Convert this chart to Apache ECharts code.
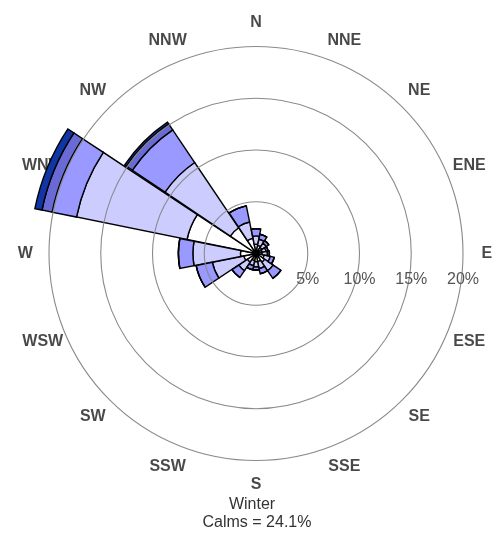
<!DOCTYPE html>
<html>
<head>
<meta charset="utf-8">
<script src="https://cdn.jsdelivr.net/npm/echarts@6/dist/echarts.min.js"></script>
<style>html,body{margin:0;padding:0;background:#fff}#chart{width:492px;height:534px}</style>
</head>
<body>
<div id="chart"></div>
<script>
// ---- data (percent of time, per direction, per wind-speed class; stacked outward) ----
const directions = ['N','NNE','NE','ENE','E','ESE','SE','SSE','S','SSW','SW','WSW','W','WNW','NW','NNW'];
const speedClass1 = [0.9, 0.8, 0.7, 0.6, 0.6, 0.8, 1.0, 0.8, 0.8, 0.7, 1.0, 1.2, 1.5, 6.8, 3.0, 1.5];
const speedClass2 = [0.8, 0.6, 0.5, 0.4, 0.5, 0.6, 1.0, 0.7, 0.5, 0.5, 1.0, 3.1, 4.6, 10.9, 7.6, 1.6];
const speedClass3 = [0.7, 0.5, 0.3, 0.2, 0.2, 0.4, 0.9, 0.5, 0.3, 0.4, 0.8, 1.6, 1.4, 2.4, 3.8, 1.6];
const speedClass4 = [0, 0, 0, 0, 0, 0, 0, 0, 0, 0, 0, 0, 0, 1.0, 0.7, 0];
const speedClass5 = [0, 0, 0, 0, 0, 0, 0, 0, 0, 0, 0, 0, 0, 0.7, 0.2, 0];
const radiusTicks = [5, 10, 15, 20];
const seasonLabel = 'Winter';
const calmsPercent = 24.1;

// ---- layout / style ----
const CX = 256, CY = 253.5;
const R_MAX = 22;            // radius-axis maximum (percent)
const R_PX = 227.7;          // pixel radius of R_MAX
const LABEL_R = 22.3;        // where direction names sit (percent units)
const FONT = "'Liberation Sans', Arial, Helvetica, sans-serif";
const colors = ['#ffffff', '#ccccff', '#9999ff', '#6a6ad6', '#1036a6'];
const classes = [speedClass1, speedClass2, speedClass3, speedClass4, speedClass5];

const chart = echarts.init(document.getElementById('chart'), null, {renderer: 'canvas'});

const splitColors = [];
const tickStep = radiusTicks[1] - radiusTicks[0];
for (let v = 0; v <= R_MAX; v += tickStep) splitColors.push(v === 0 ? 'transparent' : '#8a8a8a');
splitColors.push('transparent');

const barSeries = classes.map((arr, k) => ({
  type: 'bar',
  name: 'class ' + (k + 1),
  coordinateSystem: 'polar',
  polarIndex: 0,
  stack: 'wind',
  data: arr,
  barCategoryGap: '2%',
  silent: true,
  z: 3,
  itemStyle: {color: colors[k], borderColor: '#000', borderWidth: 1.4}
}));

const option = {
  animation: false,
  backgroundColor: '#fff',
  polar: [
    {center: [CX, CY], radius: R_PX},
    {center: [CX, CY], radius: R_PX}
  ],
  angleAxis: [
    {polarIndex: 0, type: 'category', data: directions, startAngle: 90 + 360 / directions.length / 2,
     clockwise: true, boundaryGap: true,
     axisLine: {show: false}, axisTick: {show: false}, axisLabel: {show: false}, splitLine: {show: false}},
    {polarIndex: 1, type: 'value', min: 0, max: 360, startAngle: 0, show: false,
     axisLine: {show: false}, axisTick: {show: false}, axisLabel: {show: false}, splitLine: {show: false}}
  ],
  radiusAxis: [
    {polarIndex: 0, type: 'value', min: 0, max: R_MAX, show: false,
     axisLine: {show: false}, axisTick: {show: false}, axisLabel: {show: false}, splitLine: {show: false}},
    {polarIndex: 1, type: 'value', min: 0, max: R_MAX, interval: tickStep, z: 5,
     axisLine: {show: false}, axisTick: {show: false},
     axisLabel: {show: true, margin: -26.5, align: 'center', verticalAlign: 'middle',
       fontSize: 16, color: '#555', fontFamily: FONT,
       formatter: v => (radiusTicks.indexOf(v) >= 0 ? v + '%' : '')},
     splitLine: {show: true, lineStyle: {color: splitColors, width: 1.1}}}
  ],
  title: [
    {text: seasonLabel, left: 252, top: 496.5, textAlign: 'center', padding: 0,
     textStyle: {fontSize: 16, fontWeight: 'normal', color: '#333', fontFamily: FONT}},
    {text: 'Calms = ' + calmsPercent.toFixed(1) + '%', left: 257, top: 515, textAlign: 'center', padding: 0,
     textStyle: {fontSize: 16, fontWeight: 'normal', color: '#333', fontFamily: FONT}}
  ],
  series: barSeries.concat([{
    type: 'scatter',
    name: 'direction labels',
    coordinateSystem: 'polar',
    polarIndex: 0,
    clip: false,
    silent: true,
    z: 1,
    symbolSize: 1,
    itemStyle: {color: 'transparent'},
    data: directions.map((d, i) => [LABEL_R, i]),
    label: {show: true, position: 'inside', formatter: p => directions[p.dataIndex],
      fontSize: 16, fontWeight: 'bold', color: '#1a1a1a', fontFamily: FONT}
  }])
};
chart.setOption(option);
</script>
</body>
</html>
